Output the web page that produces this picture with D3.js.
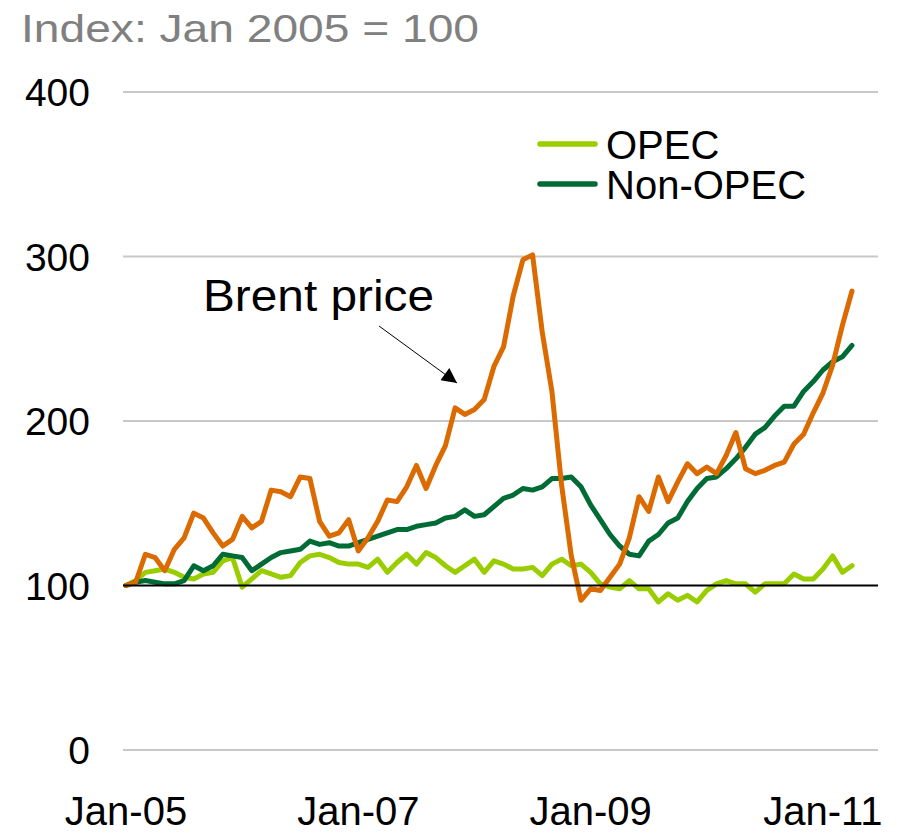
<!DOCTYPE html>
<html>
<head>
<meta charset="utf-8">
<script src="https://cdn.jsdelivr.net/npm/d3@7"></script>
<style>
  html, body { margin: 0; padding: 0; background: #fff; }
  svg { display: block; font-family: "Liberation Sans", Arial, sans-serif; }
</style>
</head>
<body>
<div id="chart"></div>
<script>
// monthly index values, Jan 2005 = 100 (Jan-05 .. Apr-11)
const brent = [
  100, 102, 119, 117, 109, 122, 129, 144, 141, 132, 124, 128,
  142, 135, 139, 158, 157, 154, 166, 165, 139, 130, 132, 140,
  121, 129, 139, 152, 151, 160, 173, 159, 173, 185, 208, 204,
  207, 213, 233, 245, 276, 298, 301, 254, 218, 161, 118, 91,
  98, 97, 105, 113, 129, 154, 145, 166, 151, 163, 174, 168,
  172, 168, 179, 193, 171, 168, 170, 173, 175, 186, 192, 205,
  217, 234, 258, 279
];
const opec = [
  100, 103, 108, 109, 110, 108, 105, 104, 107, 108, 115, 117,
  99, 104, 109, 107, 105, 106, 114, 118, 119, 117, 114, 113,
  113, 111, 116, 108, 114, 119, 113, 120, 117, 112, 108, 112,
  116, 108, 115, 113, 110, 110, 111, 106, 113, 116, 112, 113,
  108, 101, 99, 98, 103, 98, 98, 90, 95, 91, 94, 90,
  97, 101, 103, 101, 101, 96, 101, 101, 101, 107, 104, 104,
  110, 118, 108, 112
];
const nonOpec = [
  100, 102, 103, 102, 101, 101, 103, 112, 109, 112, 119, 118,
  117, 109, 113, 117, 120, 121, 122, 127, 125, 126, 124, 124,
  126, 128, 130, 132, 134, 134, 136, 137, 138, 141, 142, 146,
  142, 143, 148, 153, 155, 159, 158, 160, 165, 165, 166, 160,
  149, 140, 131, 124, 119, 118, 127, 131, 138, 141, 151, 159,
  165, 166, 171, 177, 184, 192, 196, 203, 209, 209, 218, 224,
  231, 236, 239, 246
];
const yTicks = [0, 100, 200, 300, 400];
const xTickMonths = [0, 24, 48, 72];
const xTickLabels = ['Jan-05', 'Jan-07', 'Jan-09', 'Jan-11'];
const legendNames = ['OPEC', 'Non-OPEC'];

const colors = { brent: '#db6a00', opec: '#9acd00', nonOpec: '#006b35' };

const width = 898, height = 832;
const plotLeft = 123, plotRight = 878;

const svg = d3.select('#chart').append('svg')
  .attr('width', width).attr('height', height);

const x = d3.scaleLinear().domain([0, 75]).range([126, 852]);
const y = d3.scaleLinear().domain([0, 400]).range([750, 92]);

// title
svg.append('text')
  .attr('x', 21).attr('y', 42)
  .attr('textLength', 458).attr('lengthAdjust', 'spacingAndGlyphs')
  .style('font-size', '39px').style('fill', '#808080')
  .text('Index: Jan 2005 = 100');

// gridlines
svg.append('g').selectAll('line').data(yTicks.filter(d => d !== 100)).join('line')
  .attr('x1', plotLeft).attr('x2', plotRight)
  .attr('y1', d => y(d)).attr('y2', d => y(d))
  .attr('stroke', '#c8c8c8').attr('stroke-width', 2);

// y labels
svg.append('g').selectAll('text').data(yTicks).join('text')
  .attr('x', 90).attr('y', d => y(d))
  .attr('dy', '0.36em')
  .attr('text-anchor', 'end')
  .style('font-size', '39px').style('fill', '#000')
  .text(d => d);

// x labels
svg.append('g').selectAll('text').data(xTickMonths).join('text')
  .attr('x', d => x(d)).attr('y', 825)
  .attr('text-anchor', 'middle')
  .style('font-size', '40px').style('fill', '#000')
  .text((d, i) => xTickLabels[i]);

// series
const line = d3.line().x((d, i) => x(i)).y(d => y(d));
const series = [
  { key: 'opec', values: opec },
  { key: 'nonOpec', values: nonOpec },
  { key: 'brent', values: brent }
];
svg.append('g').selectAll('path').data(series).join('path')
  .attr('d', d => line(d.values))
  .attr('fill', 'none')
  .attr('stroke', d => colors[d.key])
  .attr('stroke-width', 5)
  .attr('stroke-linejoin', 'round')
  .attr('stroke-linecap', 'round');

// base line at 100
svg.append('line')
  .attr('x1', plotLeft).attr('x2', plotRight)
  .attr('y1', y(100)).attr('y2', y(100))
  .attr('stroke', '#000').attr('stroke-width', 2);

// legend
const legend = svg.append('g');
const legendItems = [
  { name: legendNames[0], color: colors.opec, yy: 144 },
  { name: legendNames[1], color: colors.nonOpec, yy: 184 }
];
legendItems.forEach(it => {
  legend.append('line')
    .attr('x1', 540).attr('x2', 595).attr('y1', it.yy).attr('y2', it.yy)
    .attr('stroke', it.color).attr('stroke-width', 5.5).attr('stroke-linecap', 'round');
  legend.append('text')
    .attr('x', 606).attr('y', it.yy + 15)
    .style('font-size', '40px').style('fill', '#000')
    .text(it.name);
});

// annotation
svg.append('defs').append('marker')
  .attr('id', 'arrow').attr('viewBox', '0 0 10 10')
  .attr('refX', 10).attr('refY', 5)
  .attr('markerWidth', 17).attr('markerHeight', 15)
  .attr('markerUnits', 'userSpaceOnUse')
  .attr('orient', 'auto')
  .append('path').attr('d', 'M0,0 L10,5 L0,10 z').attr('fill', '#000');

svg.append('text')
  .attr('x', 203).attr('y', 311)
  .attr('textLength', 231).attr('lengthAdjust', 'spacingAndGlyphs')
  .style('font-size', '45px').style('fill', '#000')
  .text('Brent price');

svg.append('line')
  .attr('x1', 379).attr('y1', 326).attr('x2', 457).attr('y2', 383)
  .attr('stroke', '#000').attr('stroke-width', 1)
  .attr('marker-end', 'url(#arrow)');
</script>
</body>
</html>
